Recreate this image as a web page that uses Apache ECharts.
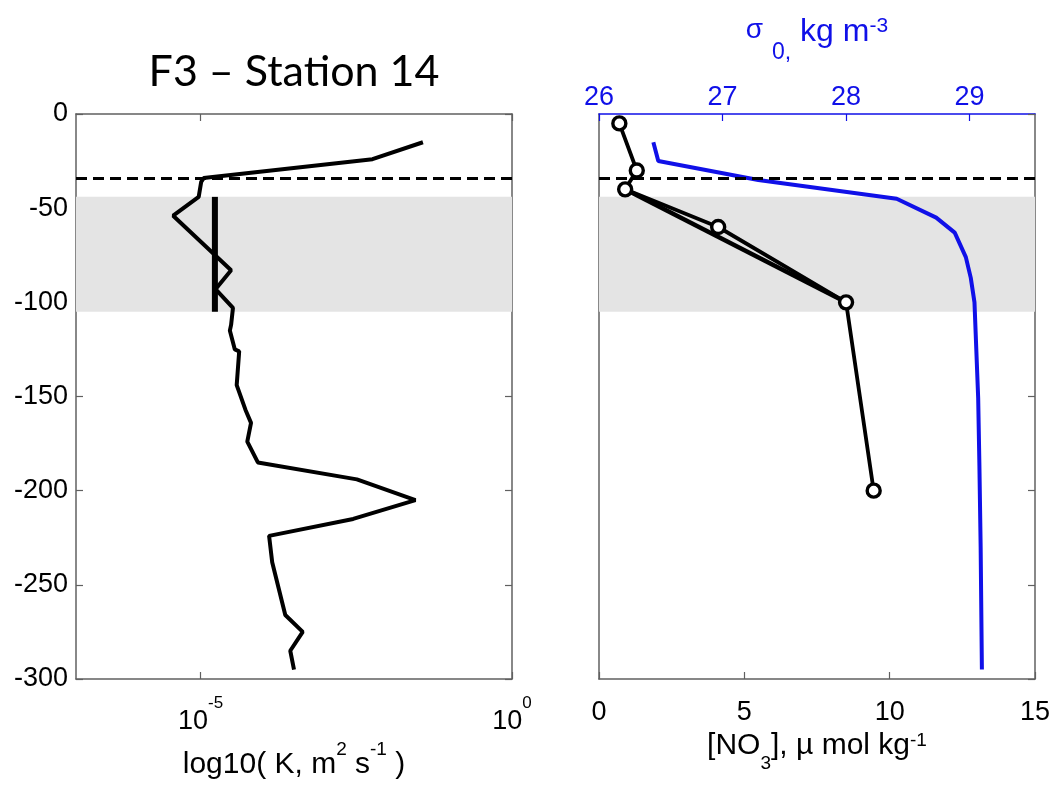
<!DOCTYPE html>
<html>
<head>
<meta charset="utf-8">
<script src="https://cdn.jsdelivr.net/npm/echarts@6/dist/echarts.min.js"></script>
<style>
  html, body { margin: 0; padding: 0; background: #fff; }
  #chart { width: 1055px; height: 786px; }
</style>
</head>
<body>
<div id="chart"></div>
<script>
// Station F3-14: turbulent diffusivity, nitrate and potential density profiles

// Depth (m) and log10 of diffusivity K (m^2 s^-1)
const kDepth = [-15, -24, -34, -36, -44, -54, -83, -93, -103, -112, -115, -125, -126, -144, -145,
                -157, -164, -174, -185, -194, -205, -215, -224, -238, -266, -275, -285, -295];
const kLog = [-1.43, -2.24, -4.95, -4.99, -5.03, -5.44, -4.51, -4.76, -4.48, -4.51, -4.53, -4.45, -4.38, -4.42, -4.45,
              -4.28, -4.19, -4.25, -4.08, -2.49, -1.55, -2.55, -3.90, -3.85, -3.64, -3.36, -3.56, -3.50];

// Layer mean of log10 K over the shaded depth range
const kLayerMean = -4.77;
const layerDepths = [-44, -105];   // shaded layer top / bottom
const mixedLayerDepth = -34;       // dashed line

// Nitrate samples (umol/kg)
const no3Depth = [-5, -30, -40, -60, -100, -200];
const no3 = [0.7, 1.3, 0.9, 4.1, 8.5, 9.45];

// Potential density anomaly sigma_0 (kg m^-3)
const sigmaDepth = [-15, -25, -35, -45, -55, -63, -76, -87, -100, -117, -151, -187, -230, -295];
const sigma0 = [26.44, 26.48, 27.29, 28.41, 28.73, 28.88, 28.97, 29.01, 29.04, 29.05, 29.07, 29.08, 29.09, 29.1];

// Axis tick values
const kTickExponents = [-5, 0];

const zip = (xs, ys) => xs.map((x, i) => [x, ys[i]]);

const FONT = "'Liberation Sans Narrow', 'Liberation Sans', Arial, sans-serif";
const AXIS_GREY = '#606060';
const BLUE = '#1010e8';
const LABEL_SIZE = 27;

const frameLine = { show: true, onZero: false, lineStyle: { color: AXIS_GREY, width: 1.5 } };
const innerTick = { show: true, inside: true, length: 7, lineStyle: { color: AXIS_GREY, width: 1.2 } };
const plainLabel = { color: '#000', fontFamily: FONT, fontSize: LABEL_SIZE };

const grids = [
  { left: 76, top: 114, width: 436, height: 565 },
  { left: 599, top: 114, width: 436, height: 565 }
];

const chart = echarts.init(document.getElementById('chart'), null, { renderer: 'canvas' });

chart.setOption({
  backgroundColor: '#fff',
  animation: false,
  grid: grids,
  graphic: [{
    type: 'text',
    x: 294, y: 72,
    style: {
      text: 'F3 \u2013 Station 14',
      font: "43px Lato, 'Open Sans', sans-serif",
      fill: '#000',
      align: 'center',
      verticalAlign: 'middle'
    }
  }],
  xAxis: [
    { // log10 K, bottom
      gridIndex: 0, type: 'value', position: 'bottom', min: -7, max: 0,
      axisLine: frameLine,
      axisTick: Object.assign({ customValues: kTickExponents }, innerTick),
      splitLine: { show: false },
      axisLabel: {
        customValues: kTickExponents,
        margin: 16,
        formatter: v => '{b|10}{s|' + v + '}',
        rich: {
          b: { fontFamily: FONT, fontSize: LABEL_SIZE, lineHeight: 40, verticalAlign: 'bottom', color: '#000' },
          s: { fontFamily: FONT, fontSize: 17, lineHeight: 17, verticalAlign: 'top', color: '#000' }
        }
      },
      name: '{t|log10( K, m}{p|2}{t| s}{p|-1}{t| )}',
      nameLocation: 'middle', nameGap: 54,
      nameTextStyle: {
        rich: {
          t: { fontFamily: FONT, fontSize: 30, lineHeight: 40, verticalAlign: 'bottom', color: '#000' },
          p: { fontFamily: FONT, fontSize: 19, lineHeight: 20, verticalAlign: 'top', color: '#000' }
        }
      }
    },
    { // log10 K, top frame
      gridIndex: 0, type: 'value', position: 'top', min: -7, max: 0,
      axisLine: frameLine,
      axisTick: Object.assign({ customValues: kTickExponents }, innerTick),
      axisLabel: { show: false },
      splitLine: { show: false }
    },
    { // nitrate, bottom
      gridIndex: 1, type: 'value', position: 'bottom', min: 0, max: 15, interval: 5,
      axisLine: frameLine,
      axisTick: innerTick,
      splitLine: { show: false },
      axisLabel: Object.assign({ margin: 20 }, plainLabel),
      name: '{t|[NO}{d|3}{t|], \u00b5 mol kg}{p|-1}',
      nameLocation: 'middle', nameGap: 44,
      nameTextStyle: {
        rich: {
          t: { fontFamily: FONT, fontSize: 30, lineHeight: 36, verticalAlign: 'top', color: '#000' },
          d: { fontFamily: FONT, fontSize: 19, lineHeight: 19, verticalAlign: 'bottom', padding: [0, 0, -6, 0], color: '#000' },
          p: { fontFamily: FONT, fontSize: 19, lineHeight: 19, verticalAlign: 'top', padding: [0, 0, 8, 0], color: '#000' }
        }
      }
    },
    { // sigma_0, top
      gridIndex: 1, type: 'value', position: 'top', min: 26, max: 29.53, interval: 1,
      axisLine: { show: true, onZero: false, lineStyle: { color: BLUE, width: 1.5 } },
      axisTick: { show: true, inside: true, length: 7, lineStyle: { color: BLUE, width: 1.2 } },
      splitLine: { show: false },
      axisLabel: { color: BLUE, fontFamily: FONT, fontSize: LABEL_SIZE, margin: 3, showMaxLabel: false },
      name: '{g|\u03c3}{t| }{d|0,}{t| kg m}{p|-3}',
      nameLocation: 'middle', nameGap: 64,
      nameTextStyle: {
        rich: {
          g: { fontFamily: FONT, fontSize: 28, lineHeight: 34, verticalAlign: 'top', color: BLUE },
          t: { fontFamily: FONT, fontSize: 32, lineHeight: 34, verticalAlign: 'top', color: BLUE },
          d: { fontFamily: FONT, fontSize: 23, lineHeight: 23, verticalAlign: 'bottom', padding: [0, 0, -14, 0], color: BLUE },
          p: { fontFamily: FONT, fontSize: 21, lineHeight: 21, verticalAlign: 'top', padding: [0, 0, 8, 0], color: BLUE }
        }
      }
    }
  ],
  yAxis: [
    { // depth, left panel
      gridIndex: 0, type: 'value', position: 'left', min: -300, max: 0, interval: 50,
      axisLine: frameLine, axisTick: innerTick, splitLine: { show: false },
      axisLabel: Object.assign({ margin: 8 }, plainLabel)
    },
    {
      gridIndex: 0, type: 'value', position: 'right', min: -300, max: 0, interval: 50,
      axisLine: frameLine, axisTick: innerTick, splitLine: { show: false },
      axisLabel: { show: false }
    },
    { // depth, right panel
      gridIndex: 1, type: 'value', position: 'left', min: -300, max: 0, interval: 50,
      axisLine: frameLine, axisTick: { show: false }, splitLine: { show: false },
      axisLabel: { show: false }
    },
    {
      gridIndex: 1, type: 'value', position: 'right', min: -300, max: 0, interval: 50,
      axisLine: frameLine, axisTick: innerTick, splitLine: { show: false },
      axisLabel: { show: false }
    }
  ],
  series: [
    // shaded layer, both panels
    {
      type: 'line', xAxisIndex: 0, yAxisIndex: 0, data: [], z: 1, silent: true,
      markArea: { silent: true, itemStyle: { color: '#e4e4e4' },
        data: [[{ yAxis: layerDepths[0] }, { yAxis: layerDepths[1] }]] }
    },
    {
      type: 'line', xAxisIndex: 2, yAxisIndex: 2, data: [], z: 1, silent: true,
      markArea: { silent: true, itemStyle: { color: '#e4e4e4' },
        data: [[{ yAxis: layerDepths[0] }, { yAxis: layerDepths[1] }]] }
    },
    // diffusivity profile
    {
      type: 'line', xAxisIndex: 0, yAxisIndex: 0, z: 3,
      data: zip(kLog, kDepth), showSymbol: false,
      lineStyle: { color: '#000', width: 4 }
    },
    // layer mean diffusivity
    {
      type: 'line', xAxisIndex: 0, yAxisIndex: 0, z: 3,
      data: [[kLayerMean, layerDepths[0]], [kLayerMean, layerDepths[1]]], showSymbol: false,
      lineStyle: { color: '#000', width: 6 }
    },
    // potential density
    {
      type: 'line', xAxisIndex: 3, yAxisIndex: 2, z: 3,
      data: zip(sigma0, sigmaDepth), showSymbol: false,
      lineStyle: { color: BLUE, width: 4 }
    },
    // nitrate chord between the 40 m and 100 m samples
    {
      type: 'line', xAxisIndex: 2, yAxisIndex: 2, z: 3,
      data: [[no3[2], no3Depth[2]], [no3[4], no3Depth[4]]], showSymbol: false,
      lineStyle: { color: '#000', width: 4.5 }
    },
    // nitrate profile
    {
      type: 'line', xAxisIndex: 2, yAxisIndex: 2, z: 4,
      data: zip(no3, no3Depth),
      symbol: 'circle', symbolSize: 13, showSymbol: true,
      itemStyle: { color: '#fff', borderColor: '#000', borderWidth: 3.4, opacity: 1 },
      lineStyle: { color: '#000', width: 3.8 }
    },
    // mixed-layer depth, both panels
    {
      type: 'line', xAxisIndex: 0, yAxisIndex: 0, data: [], z: 5, silent: true,
      markLine: { silent: true, symbol: 'none', label: { show: false },
        lineStyle: { color: '#000', width: 3.2, type: [11, 6] },
        data: [{ yAxis: mixedLayerDepth }] }
    },
    {
      type: 'line', xAxisIndex: 2, yAxisIndex: 2, data: [], z: 5, silent: true,
      markLine: { silent: true, symbol: 'none', label: { show: false },
        lineStyle: { color: '#000', width: 3.2, type: [11, 6] },
        data: [{ yAxis: mixedLayerDepth }] }
    }
  ]
});
</script>
</body>
</html>
